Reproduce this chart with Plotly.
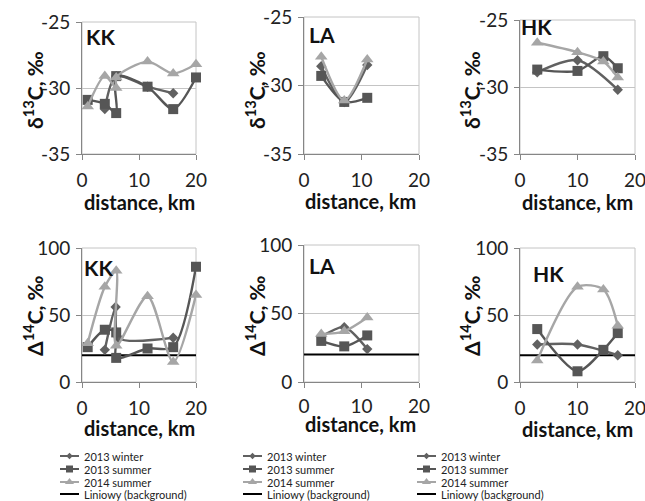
import plotly.graph_objects as go

W, H = 645, 501

# ---------------- data ----------------
SERIES = ["2013 winter", "2013 summer", "2014 summer"]
BACKGROUND_LABEL = "Liniowy (background)"
PANELS = ["KK", "LA", "HK"]

# KK
KK_D13_WINTER_X = [4, 6, 11.5, 16]
KK_D13_WINTER = [-31.6, -29.1, -29.9, -30.4]
KK_D13_S13_X = [1, 4, 6, 6, 11.5, 16, 20]
KK_D13_S13 = [-30.9, -31.2, -31.9, -29.1, -29.9, -31.6, -29.2]
KK_D13_S14_X = [1, 4, 6, 6, 11.5, 16, 20]
KK_D13_S14 = [-31.4, -29.1, -30.0, -29.2, -28.0, -28.9, -28.2]

KK_D14_WINTER_X = [4, 5.9, 6.4, 16]
KK_D14_WINTER = [24, 56, 33, 33]
KK_D14_S13_X = [1, 4, 6, 6, 11.5, 16, 20]
KK_D14_S13 = [26, 39, 37, 18, 25, 26, 86]
KK_D14_S14_X = [1, 4, 6, 6, 11.5, 16, 20]
KK_D14_S14 = [29, 71, 83, 27, 64, 15, 65]

# LA
LA_X = [3, 7, 11]
LA_D13_WINTER = [-28.6, -31.2, -28.5]
LA_D13_S13 = [-29.3, -31.2, -30.9]
LA_D13_S14 = [-27.9, -31.1, -28.1]
LA_D14_WINTER = [33, 40, 24]
LA_D14_S13 = [30, 26, 34]
LA_D14_S14 = [35, 37, 47]

# HK
HK_WINTER_X = [3, 10, 17]
HK_X = [3, 10, 14.5, 17]
HK_D13_WINTER = [-28.9, -28.0, -30.2]
HK_D13_S13 = [-28.7, -28.8, -27.7, -28.6]
HK_D13_S14 = [-26.7, -27.4, -28.1, -29.3]
HK_D14_WINTER = [28, 28, 20]
HK_D14_S13 = [39.5, 8, 24, 36.5]
HK_D14_S14 = [16, 71, 69, 42]

BACKGROUND_X = [0, 20]
BACKGROUND = [20, 20]

X_TICKS = [0, 10, 20]
D13_TICKS = [-35, -30, -25]
D13_TICK_TEXT = ["-35", "-30", "-25"]
D14_TICKS = [0, 50, 100]

# ---------------- styles ----------------
FONT = "Lato"
COLORS = ["#616161", "#565656", "#a6a6a6"]
SYMBOLS = ["diamond", "square", "triangle-up"]
MSIZE = [8, 10, 11]
AXC = "#868686"
GRIDC = "#c4c4c4"

fig = go.Figure()

def px2x(p):
    return p / W

def px2y(p):
    return 1 - p / H

# panel pixel boxes: (left, right, top, bottom)
boxes = {
    1: (82, 196, 22, 154), 2: (304, 419, 17, 154), 3: (520, 635, 20, 154),
    4: (82, 196, 248, 382), 5: (304, 419, 245, 382), 6: (520, 635, 248, 382),
}

panel_data = {
    1: [(KK_D13_WINTER_X, KK_D13_WINTER), (KK_D13_S13_X, KK_D13_S13), (KK_D13_S14_X, KK_D13_S14)],
    2: [(LA_X, LA_D13_WINTER), (LA_X, LA_D13_S13), (LA_X, LA_D13_S14)],
    3: [(HK_WINTER_X, HK_D13_WINTER), (HK_X, HK_D13_S13), (HK_X, HK_D13_S14)],
    4: [(KK_D14_WINTER_X, KK_D14_WINTER), (KK_D14_S13_X, KK_D14_S13), (KK_D14_S14_X, KK_D14_S14)],
    5: [(LA_X, LA_D14_WINTER), (LA_X, LA_D14_S13), (LA_X, LA_D14_S14)],
    6: [(HK_WINTER_X, HK_D14_WINTER), (HK_X, HK_D14_S13), (HK_X, HK_D14_S14)],
}

layout = {}
shapes = []
annotations = []

for i in range(1, 7):
    l, r, t, b = boxes[i]
    xa = "xaxis" if i == 1 else f"xaxis{i}"
    ya = "yaxis" if i == 1 else f"yaxis{i}"
    xr = "x" if i == 1 else f"x{i}"
    yr = "y" if i == 1 else f"y{i}"
    top = i <= 3
    layout[xa] = dict(domain=[px2x(l), px2x(r)], anchor=yr, range=[0, 20],
                      tickvals=X_TICKS, ticks="outside", ticklen=5, tickcolor=AXC,
                      showline=True, linecolor=AXC, linewidth=1, showgrid=False,
                      zeroline=False, tickfont=dict(family=FONT, size=19, color="#222"),
                      ticklabelstandoff=2 if i == 5 else 4, ticklabeloverflow="allow",
                      fixedrange=True, automargin=False)
    layout[ya] = dict(domain=[px2y(b), px2y(t)], anchor=xr,
                      range=[-35, -25] if top else [0, 100],
                      tickvals=D13_TICKS if top else D14_TICKS,
                      ticktext=D13_TICK_TEXT if top else [str(v) for v in D14_TICKS],
                      ticks="outside", ticklen=5, tickcolor=AXC,
                      showline=True, linecolor=AXC, linewidth=1,
                      showgrid=True, gridcolor=GRIDC, gridwidth=1, zeroline=False,
                      tickfont=dict(family=FONT, size=19, color="#222"),
                      ticklabelstandoff=2, ticklabeloverflow="allow",
                      fixedrange=True, automargin=False)
    # top / right border of plot area
    shapes.append(dict(type="rect", xref=f"{xr} domain", yref=f"{yr} domain",
                       x0=0, x1=1, y0=0, y1=1, line=dict(color=GRIDC, width=1),
                       layer="below"))
    if not top:
        fig.add_trace(go.Scatter(x=BACKGROUND_X, y=BACKGROUND, mode="lines",
                                 line=dict(color="black", width=2), xaxis=xr, yaxis=yr,
                                 showlegend=False, hoverinfo="skip"))
    for s in range(3):
        xs, ys = panel_data[i][s]
        fig.add_trace(go.Scatter(x=xs, y=ys, mode="lines+markers", name=SERIES[s],
                                 line=dict(color=COLORS[s], width=2.4, shape="spline", smoothing=0.8),
                                 marker=dict(symbol=SYMBOLS[s], size=MSIZE[s], color=COLORS[s]),
                                 xaxis=xr, yaxis=yr, showlegend=False, cliponaxis=False))

# panel labels
labels = [("KK", 100, 37), ("LA", 322, 35), ("HK", 536, 26),
          ("KK", 98, 267), ("LA", 322, 265), ("HK", 548, 273)]
for txt, x, y in labels:
    annotations.append(dict(text=f"<b>{txt}</b>", x=px2x(x), y=px2y(y), xref="paper", yref="paper",
                            showarrow=False, xanchor="center", yanchor="middle",
                            font=dict(family=FONT, size=21, color="#111")))

# axis titles
ytitle_x = [33, 255, 470]
for c in range(3):
    annotations.append(dict(text="<b>δ<sup>13</sup>C, ‰</b>", x=px2x(ytitle_x[c]), y=px2y(90),
                            xref="paper", yref="paper", showarrow=False, textangle=-90,
                            xanchor="center", yanchor="middle",
                            font=dict(family=FONT, size=21, color="#111")))
    annotations.append(dict(text="<b>Δ<sup>14</sup>C, ‰</b>", x=px2x(ytitle_x[c]), y=px2y(316),
                            xref="paper", yref="paper", showarrow=False, textangle=-90,
                            xanchor="center", yanchor="middle",
                            font=dict(family=FONT, size=21, color="#111")))
xt_centers = [139, 361, 577]
xt_top = [202, 201, 202]
xt_bot = [428, 424, 429]
for c in range(3):
    for yy in (xt_top[c], xt_bot[c]):
        annotations.append(dict(text="<b>distance, km</b>", x=px2x(xt_centers[c]), y=px2y(yy),
                                xref="paper", yref="paper", showarrow=False,
                                xanchor="center", yanchor="middle",
                                font=dict(family=FONT, size=20, color="#111")))

# legends (hidden pixel-space overlay axis)
layout["xaxis7"] = dict(domain=[0, 1], range=[0, W], visible=False, anchor="y7",
                        fixedrange=True, automargin=False)
layout["yaxis7"] = dict(domain=[0, 1], range=[H, 0], visible=False, anchor="x7",
                        fixedrange=True, automargin=False)
leg_x0 = [60, 243, 417]
leg_rows = [456, 469, 482, 494]
for c in range(3):
    x0 = leg_x0[c]
    for k in range(4):
        y = leg_rows[k]
        if k < 3:
            fig.add_trace(go.Scatter(x=[x0, x0 + 19], y=[y, y], mode="lines",
                                     line=dict(color=COLORS[k], width=2), xaxis="x7", yaxis="y7",
                                     showlegend=False, hoverinfo="skip"))
            fig.add_trace(go.Scatter(x=[x0 + 9.5], y=[y], mode="markers",
                                     marker=dict(symbol=SYMBOLS[k], size=MSIZE[k] - 3, color=COLORS[k]),
                                     xaxis="x7", yaxis="y7", showlegend=False, hoverinfo="skip"))
            txt = SERIES[k]
        else:
            fig.add_trace(go.Scatter(x=[x0, x0 + 19], y=[y, y], mode="lines",
                                     line=dict(color="black", width=2), xaxis="x7", yaxis="y7",
                                     showlegend=False, hoverinfo="skip"))
            txt = BACKGROUND_LABEL
        annotations.append(dict(text=txt, x=px2x(x0 + 22), y=px2y(y), xref="paper", yref="paper",
                                showarrow=False, xanchor="left", yanchor="middle",
                                font=dict(family=FONT, size=11, color="#222")))

fig.update_layout(template="none", width=W, height=H, margin=dict(l=0, r=0, t=0, b=0, pad=0),
                  paper_bgcolor="white", plot_bgcolor="rgba(0,0,0,0)", showlegend=False,
                  shapes=shapes, annotations=annotations, **layout)

fig.write_html("out.html", config={"displayModeBar": False},
               post_script="document.body.style.margin='0';"
                           "document.documentElement.style.overflow='hidden';"
                           "document.body.style.overflow='hidden';")
